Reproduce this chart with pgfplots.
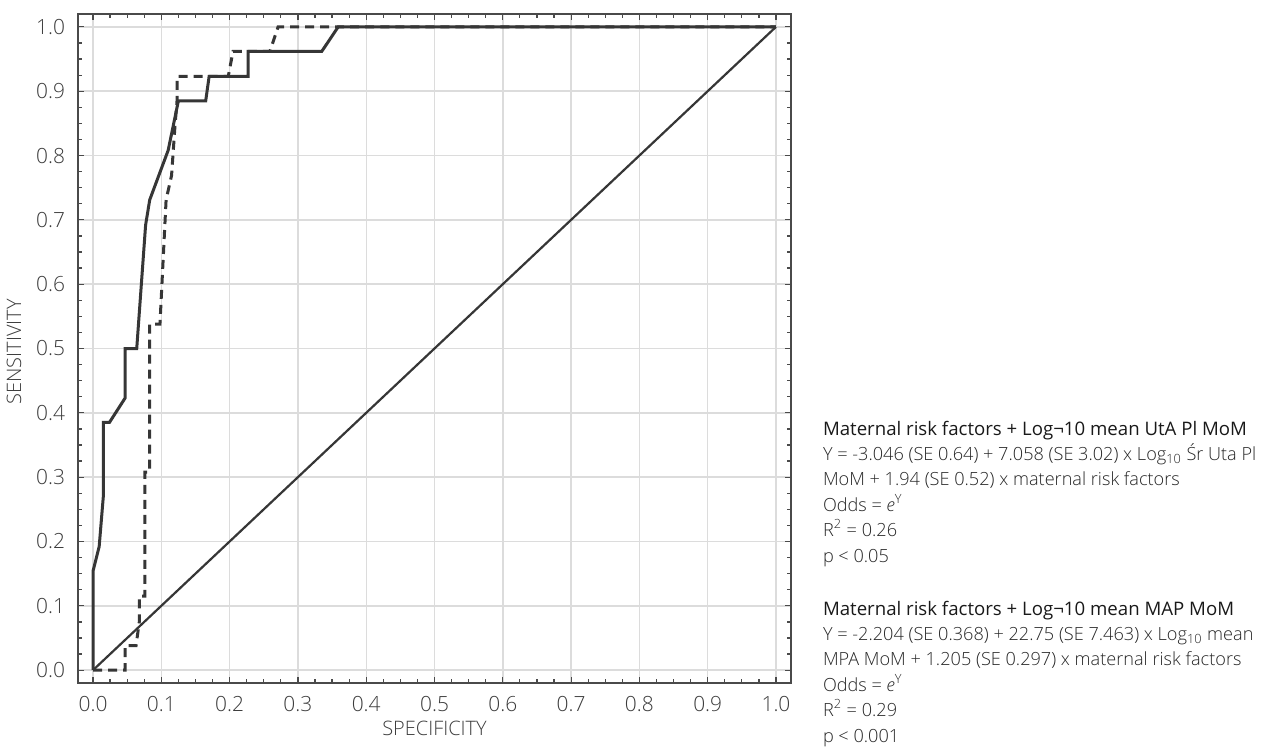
\documentclass[border=0pt]{standalone}
\usepackage{fontspec}
\setmainfont{Open Sans}
\newfontfamily\lightfont{Open Sans Light}
\usepackage{pgfplots}
\pgfplotsset{compat=1.18}
\definecolor{curve}{HTML}{363636}
\definecolor{gridc}{HTML}{DCDCDC}
\definecolor{axisc}{HTML}{4A4A4A}
\definecolor{txt}{HTML}{3C3C3C}
\definecolor{body}{HTML}{262626}

\begin{document}
\begin{tikzpicture}[x=1bp,y=1bp]
\useasboundingbox (-39,-32) rectangle (596,341.5);
\begin{axis}[
  at={(0,0)}, anchor=south west,
  width=356.5bp, height=334.5bp, scale only axis,
  xmin=-0.022, xmax=1.022, ymin=-0.02, ymax=1.02,
  xtick={0,0.1,0.2,0.3,0.4,0.5,0.6,0.7,0.8,0.9,1.0},
  ytick={0,0.1,0.2,0.3,0.4,0.5,0.6,0.7,0.8,0.9,1.0},
  minor tick num=3,
  tick align=inside,
  major tick length=3bp, minor tick length=2bp,
  xmajorgrids, ymajorgrids,
  major grid style={gridc, line width=0.7bp},
  axis line style={axisc, line width=1.1bp},
  tick style={axisc, line width=0.6bp},
  xticklabel style={font=\lightfont\fontsize{10.5}{12}\selectfont, text=txt, yshift=-3bp},
  yticklabel style={font=\lightfont\fontsize{10.5}{12}\selectfont, text=txt, xshift=-3bp},
  /pgf/number format/.cd, fixed, fixed zerofill, precision=1, assume math mode=true,
  /pgfplots/.cd,
  xlabel={SPECIFICITY},
  ylabel={SENSITIVITY},
  xlabel style={font=\lightfont\fontsize{10}{12}\selectfont, text=txt,
    at={(rel axis cs:0.5,0)}, anchor=center, yshift=-22.5bp},
  ylabel style={font=\lightfont\fontsize{10}{12}\selectfont, text=txt,
    at={(rel axis cs:0,0.495)}, anchor=center, yshift=32bp},
]
\addplot[curve, line width=1.1bp] coordinates {(0,0) (1,1)};

\addplot[curve, line width=1.5bp, dash pattern=on 4.5bp off 3bp] coordinates {
(0,0) (0.047,0) (0.047,0.038) (0.063,0.038) (0.068,0.077) (0.068,0.115)
(0.076,0.115) (0.076,0.308) (0.083,0.308) (0.083,0.538) (0.098,0.538)
(0.107,0.731) (0.115,0.769) (0.120,0.846) (0.123,0.885) (0.123,0.923)
(0.198,0.923) (0.205,0.962) (0.259,0.962) (0.271,1.0) (1,1)
};

\addplot[curve, line width=1.5bp] coordinates {
(0,0) (0,0.154) (0.009,0.192) (0.015,0.269) (0.015,0.385) (0.024,0.385)
(0.047,0.423) (0.047,0.5) (0.064,0.5) (0.077,0.692) (0.083,0.731)
(0.110,0.808) (0.125,0.885) (0.165,0.885) (0.170,0.923) (0.227,0.923)
(0.227,0.962) (0.335,0.962) (0.359,1.0) (1.0,1.0)
};
\end{axis}

\begin{scope}[every node/.style={anchor=base west, inner sep=0pt, text=body,
    font=\lightfont\fontsize{9.1}{11}\selectfont}]
\node[font=\fontsize{9.35}{11}\selectfont, text=black!90] at (372.3,124.0) {Maternal risk factors + Log¬10 mean UtA Pl MoM};
\node at (372.3,111.3) {Y = -3.046 (SE 0.64) + 7.058 (SE 3.02) x Log\textsubscript{10} Śr Uta Pl};
\node at (372.3,98.6) {MoM + 1.94 (SE 0.52) x maternal risk factors};
\node at (372.3,85.9) {Odds = \textit{e}\textsuperscript{Y}};
\node at (372.3,73.2) {R\textsuperscript{2} = 0.26};
\node at (372.3,60.5) {p < 0.05};

\node[font=\fontsize{9.35}{11}\selectfont, text=black!90] at (372.3,34.0) {Maternal risk factors + Log¬10 mean MAP MoM};
\node at (372.3,21.3) {Y = -2.204 (SE 0.368) + 22.75 (SE 7.463) x Log\textsubscript{10} mean};
\node at (372.3,8.6) {MPA MoM + 1.205 (SE 0.297) x maternal risk factors};
\node at (372.3,-4.1) {Odds = \textit{e}\textsuperscript{Y}};
\node at (372.3,-16.8) {R\textsuperscript{2} = 0.29};
\node at (372.3,-29.5) {p < 0.001};
\end{scope}
\end{tikzpicture}
\end{document}
